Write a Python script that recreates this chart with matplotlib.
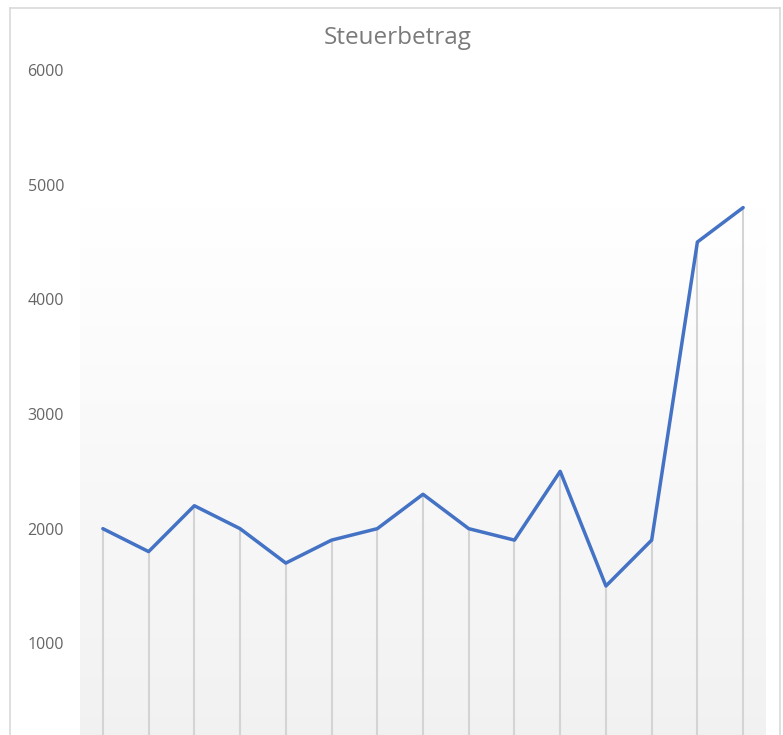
import matplotlib.pyplot as plt
from matplotlib.lines import Line2D
import numpy as np

# data
periods = list(range(1, 16))
steuerbetrag = [2000, 1800, 2200, 2000, 1700, 1900, 2000, 2300, 2000, 1900, 2500, 1500, 1900, 4500, 4800]
yticks = [1000, 2000, 3000, 4000, 5000, 6000]

W, H = 783, 735
fig = plt.figure(figsize=(W / 100, H / 100), dpi=100)
plt.rcParams['font.family'] = ['Open Sans', 'DejaVu Sans']

# chart frame (cropped at the bottom)
for xs, ys in [([10 / W, 10 / W], [0, 1 - 8 / H]),
               ([10 / W, 780 / W], [1 - 8 / H, 1 - 8 / H]),
               ([780 / W, 780 / W], [1 - 8 / H, 0])]:
    fig.add_artist(Line2D(xs, ys, color='#d9d9d9', lw=1.2, transform=fig.transFigure))

# axes: y=6000 at px 70, y=0 at px 758 (below the visible area)
left, right = 80 / W, 766 / W
bottom = (H - 758) / H
top = (H - 70) / H
ax = fig.add_axes([left, bottom, right - left, top - bottom])

x = np.arange(len(periods))
ax.set_xlim(-0.5, len(periods) - 0.5)
ax.set_ylim(0, 6000)

# gradient fill of the plot area
grad = np.linspace(0, 1, 256).reshape(-1, 1)
vals = np.clip(grad / 0.8, 0, 1)
col = 1.0 - 0.055 * (1 - vals)
img = np.dstack([col, col, col])
ax.imshow(img, extent=[-0.5, len(periods) - 0.5, 0, 6000], origin='lower',
          aspect='auto', zorder=0)

# drop lines
ax.vlines(x, 0, steuerbetrag, colors='#d4d4d4', lw=1.5, zorder=1)
ax.plot(x, steuerbetrag, color='#4472c4', lw=2.5, solid_joinstyle='round',
        solid_capstyle='round', zorder=2)

ax.set_yticks(yticks)
ax.set_yticklabels([str(v) for v in yticks])
ax.set_xticks([])
ax.tick_params(axis='y', length=0, pad=11.5, labelsize=11.5, labelcolor='#666666')
for s in ax.spines.values():
    s.set_visible(False)

fig.text(398 / W, 1 - 38 / H, 'Steuerbetrag', ha='center', va='center',
         fontsize=17.5, color='#7a7a7a')

fig.savefig('out.png', dpi=100)
